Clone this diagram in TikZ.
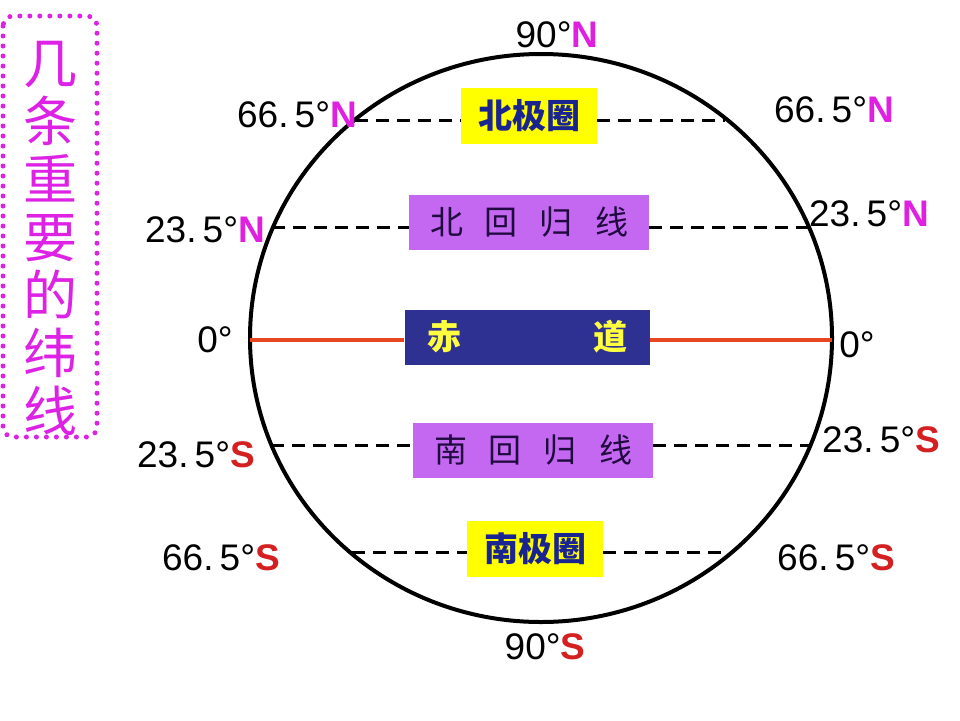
\documentclass[tikz,border=0pt]{standalone}
\usepackage{fontspec}
\setmainfont{Liberation Sans}
\newfontfamily\cjk{Noto Sans CJK SC}
\definecolor{magN}{HTML}{E020E0}
\definecolor{redS}{HTML}{D42020}
\definecolor{ttl}{HTML}{DD22E6}
\definecolor{yelbox}{HTML}{FFFF00}
\definecolor{navytxt}{HTML}{1A2490}
\definecolor{purbox}{HTML}{C468F2}
\definecolor{purtxt}{HTML}{200A40}
\definecolor{eqbox}{HTML}{2E3192}
\definecolor{eqline}{HTML}{E8461E}
\definecolor{eqtxt}{HTML}{FFFF40}
\tikzset{
  lab/.style={font=\fontsize{37}{40}\selectfont, inner sep=0pt, anchor=center, text=black},
  polarbox/.style={fill=yelbox, inner sep=0pt, minimum width=136pt, minimum height=56pt, font=\cjk\bfseries\fontsize{34}{38}\selectfont, text=navytxt},
  tropbox/.style={fill=purbox, inner sep=0pt, minimum width=240pt, minimum height=55pt, font=\cjk\fontsize{33}{38}\selectfont, text=purtxt},
  eqboxst/.style={fill=eqbox, inner sep=0pt, minimum width=245pt, minimum height=55pt, font=\cjk\bfseries\fontsize{34}{38}\selectfont, text=eqtxt},
  dashline/.style={line width=3pt, dash pattern=on 13pt off 8pt},
}
\newcommand{\Nn}{\textcolor{magN}{\bfseries N}}
\newcommand{\Ss}{\textcolor{redS}{\bfseries S}}
\begin{document}
\begin{tikzpicture}[x=1pt,y=-1pt]
\useasboundingbox (0,0) rectangle (960,720);
\fill[white] (0,0) rectangle (960,720);

% title box
\draw[ttl, line width=5pt, line cap=round, dash pattern=on 0pt off 10pt, rounded corners=10pt] (3,16) rectangle (97,437);
\node[text=ttl, font=\cjk\fontsize{54}{58}\selectfont, align=center, inner sep=0pt] (title) at (50,238) {几\\条\\重\\要\\的\\纬\\线};

% globe
\draw[line width=4pt] (541,338) ellipse [x radius=291, y radius=284];

% coordinates on globe
\coordinate (a66l) at (355,120);
\coordinate (a66r) at (725,120);
\coordinate (a23l) at (272,227);
\coordinate (a23r) at (809,227);
\coordinate (eql) at (250,340);
\coordinate (eqr) at (832,340);
\coordinate (b23l) at (271,445);
\coordinate (b23r) at (811,445);
\coordinate (b66l) at (352,552);
\coordinate (b66r) at (725,552);

% boxes
\node[polarbox] (npc) at (529,116) {北极圈};
\node[tropbox] (ntr) at (529,222) {北\hspace{22pt}回\hspace{22pt}归\hspace{22pt}线};
\node[eqboxst] (eqb) at (527,337) {赤\hspace{132pt}道};
\node[tropbox] (str) at (533,450) {南\hspace{22pt}回\hspace{22pt}归\hspace{22pt}线};
\node[polarbox] (spc) at (535,549) {南极圈};

% lines
\draw[dashline] (a66l) -- (a66l -| npc.west);
\draw[dashline] (npc.east |- a66r) -- (a66r);
\draw[dashline] (a23l) -- (a23l -| ntr.west);
\draw[dashline] (ntr.east |- a23r) -- (a23r);
\draw[eqline, line width=3.5pt] (eql) -- (eql -| eqb.west);
\draw[eqline, line width=3.5pt] (eqb.east |- eqr) -- (eqr);
\draw[dashline] (b23l) -- (b23l -| str.west);
\draw[dashline] (str.east |- b23r) -- (b23r);
\draw[dashline] (b66l) -- (b66l -| spc.west);
\draw[dashline] (spc.east |- b66r) -- (b66r);

% labels
\node[lab] (l90n) at (557,35) {90°\Nn};
\node[lab] (l66nl) at (297,115) {66.\,5°\Nn};
\node[lab] (l66nr) at (834,110) {66.\,5°\Nn};
\node[lab] (l23nl) at (205,230) {23.\,5°\Nn};
\node[lab] (l23nr) at (869,214) {23.\,5°\Nn};
\node[lab] (l0l) at (215,340) {0°};
\node[lab] (l0r) at (857,345) {0°};
\node[lab] (l23sl) at (196,455) {23.\,5°\Ss};
\node[lab] (l23sr) at (881,440) {23.\,5°\Ss};
\node[lab] (l66sl) at (221,558) {66.\,5°\Ss};
\node[lab] (l66sr) at (836,558) {66.\,5°\Ss};
\node[lab] (l90s) at (545,647) {90°\Ss};
\end{tikzpicture}
\end{document}
